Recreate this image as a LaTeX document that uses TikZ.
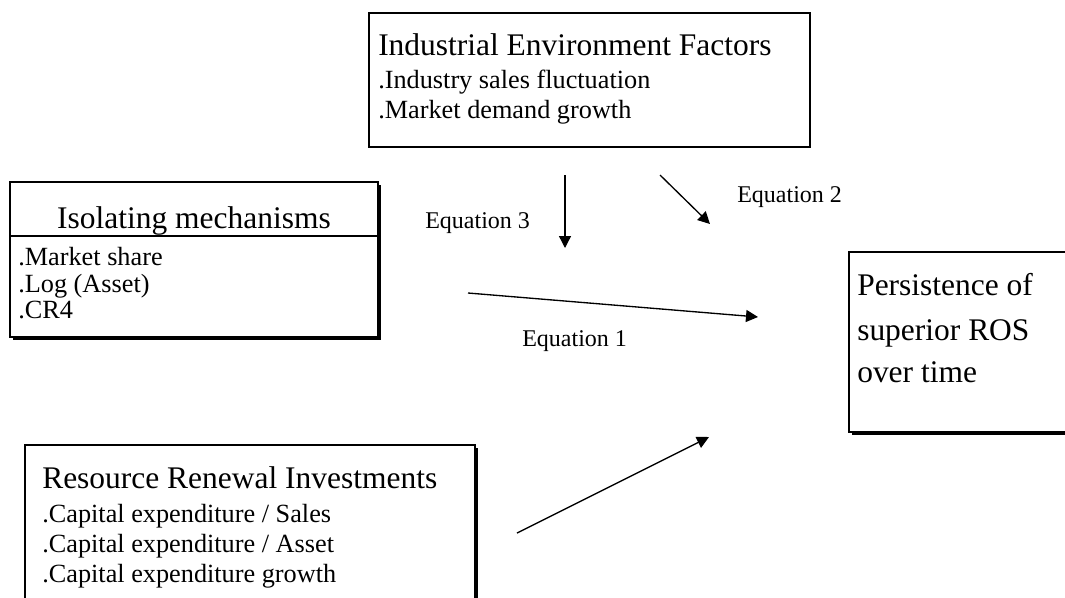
\documentclass[tikz,border=0pt]{standalone}
\usepackage{fontspec}
\setmainfont{Liberation Serif}
\usetikzlibrary{arrows.meta,shadows}
\begin{document}
\begin{tikzpicture}[x=0.75pt,y=-0.75pt,
  box/.style={draw=black,line width=1.5pt,fill=white,inner sep=0pt,outer sep=0pt,anchor=north west},
  shadowbox/.style={box,drop shadow={shadow xshift=2.25pt,shadow yshift=-2.25pt,opacity=1,fill=black}},
  headtext/.style={font=\fontsize{23.6pt}{28pt}\selectfont,inner sep=0pt},
  itemtext/.style={font=\fontsize{19.7pt}{24pt}\selectfont,inner sep=0pt,anchor=base west},
  eqtext/.style={font=\fontsize{18pt}{22pt}\selectfont,inner sep=0pt,anchor=base west},
  link/.style={line width=1pt,-{Triangle[length=9pt,width=9pt]}}]
\useasboundingbox (0,0) rectangle (1065,597);
\clip (0,0) rectangle (1065,597);

% boxes
\node[box,minimum width=330.75pt,minimum height=100.5pt] (env) at (369,13) {};
\node[shadowbox,minimum width=276pt,minimum height=116.25pt] (iso) at (10,182) {};
\node[shadowbox,minimum width=173.25pt,minimum height=135pt] (ros) at (849,252) {};
\node[shadowbox,minimum width=337.5pt,minimum height=123.75pt] (res) at (25,445) {};

% header rule of the isolating mechanisms box
\coordinate (isoSplit) at (0,236);
\draw[line width=1.5pt] (iso.west |- isoSplit) -- (iso.east |- isoSplit);

% industrial environment factors
\node[headtext,anchor=base west] (envT) at (378,55) {Industrial Environment Factors};
\node[itemtext] (envA) at (378,88) {.Industry sales fluctuation};
\node[itemtext] (envB) at (378,118) {.Market demand growth};

% isolating mechanisms
\node[headtext,anchor=base] (isoT) at (194,228) {Isolating mechanisms};
\node[itemtext] (isoA) at (18,265) {.Market share};
\node[itemtext] (isoB) at (18,292) {.Log (Asset)};
\node[itemtext] (isoC) at (18,318) {.CR4};

% persistence of superior ROS
\node[headtext,anchor=base west] (rosA) at (857,295) {Persistence of};
\node[headtext,anchor=base west] (rosB) at (857,340) {superior ROS};
\node[headtext,anchor=base west] (rosC) at (857,382) {over time};

% resource renewal investments
\node[headtext,anchor=base west] (resT) at (42,488) {Resource Renewal Investments};
\node[itemtext] (resA) at (42,522) {.Capital expenditure / Sales};
\node[itemtext] (resB) at (42,552) {.Capital expenditure / Asset};
\node[itemtext] (resC) at (42,582) {.Capital expenditure growth};

% arrow end points
\coordinate (eq3s) at (565,175);
\coordinate (eq3e) at (565,248);
\coordinate (eq2s) at (660,175);
\coordinate (eq2e) at (710,224);
\coordinate (eq1s) at (468,293);
\coordinate (eq1e) at (758,317);
\coordinate (rrs) at (517,533);
\coordinate (rre) at (709,437);

\draw[link] (eq3s) -- (eq3e);
\draw[link] (eq2s) -- (eq2e);
\draw[link] (eq1s) -- (eq1e);
\draw[link] (rrs) -- (rre);

% equation labels
\node[eqtext] (eq3) at (425,228) {Equation 3};
\node[eqtext] (eq2) at (737,202) {Equation 2};
\node[eqtext] (eq1) at (522,346) {Equation 1};
\end{tikzpicture}
\end{document}
